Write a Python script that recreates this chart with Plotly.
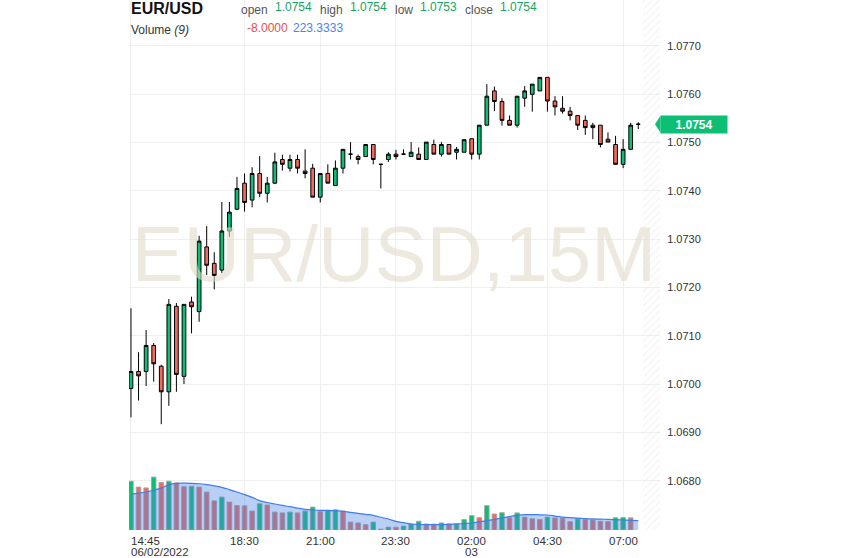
import pandas as pd
import plotly.graph_objects as go

# EUR/USD 15 minute candles, 2 June 2022 14:45 -> 3 June 07:30
times = pd.date_range("2022-06-02 14:45", periods=68, freq="15min")

opens = [1.06991, 1.07026, 1.07026, 1.07080, 1.07037, 1.06984, 1.07161, 1.07016, 1.07170, 1.07150,
         1.07284, 1.07250, 1.07236, 1.07317, 1.07362, 1.07416, 1.07381, 1.07436, 1.07395, 1.07416,
         1.07465, 1.07447, 1.07465, 1.07441, 1.07447, 1.07387, 1.07436, 1.07411, 1.07447, 1.07476,
         1.07471, 1.07471, 1.07496, 1.07455, 1.07465, 1.07476, 1.07476, 1.07471, 1.07476, 1.07465,
         1.07496, 1.07476, 1.07496, 1.07480, 1.07480, 1.07508, 1.07476, 1.07536, 1.07607, 1.07585,
         1.07546, 1.07536, 1.07592, 1.07600, 1.07607, 1.07635, 1.07586, 1.07571, 1.07565, 1.07556,
         1.07546, 1.07536, 1.07536, 1.07507, 1.07496, 1.07455, 1.07486, 1.07538]
highs = [1.07157, 1.07066, 1.07112, 1.07085, 1.07040, 1.07176, 1.07168, 1.07165, 1.07181, 1.07307,
         1.07327, 1.07273, 1.07377, 1.07377, 1.07429, 1.07436, 1.07449, 1.07472, 1.07429, 1.07479,
         1.07475, 1.07475, 1.07475, 1.07486, 1.07456, 1.07436, 1.07455, 1.07463, 1.07486, 1.07501,
         1.07475, 1.07496, 1.07496, 1.07455, 1.07480, 1.07485, 1.07486, 1.07501, 1.07490, 1.07501,
         1.07506, 1.07501, 1.07496, 1.07491, 1.07506, 1.07508, 1.07536, 1.07621, 1.07616, 1.07592,
         1.07556, 1.07596, 1.07617, 1.07621, 1.07635, 1.07635, 1.07596, 1.07596, 1.07574, 1.07556,
         1.07556, 1.07541, 1.07536, 1.07521, 1.07514, 1.07507, 1.07541, 1.07542]
lows = [1.06931, 1.06966, 1.06996, 1.07005, 1.06917, 1.06955, 1.06984, 1.07000, 1.07105, 1.07129,
        1.07226, 1.07196, 1.07230, 1.07305, 1.07360, 1.07357, 1.07366, 1.07387, 1.07376, 1.07414,
        1.07442, 1.07440, 1.07436, 1.07426, 1.07387, 1.07376, 1.07416, 1.07411, 1.07436, 1.07465,
        1.07455, 1.07471, 1.07455, 1.07405, 1.07460, 1.07465, 1.07476, 1.07471, 1.07465, 1.07465,
        1.07476, 1.07471, 1.07476, 1.07465, 1.07480, 1.07465, 1.07465, 1.07536, 1.07565, 1.07535,
        1.07536, 1.07531, 1.07574, 1.07564, 1.07607, 1.07564, 1.07556, 1.07560, 1.07546, 1.07526,
        1.07516, 1.07507, 1.07490, 1.07501, 1.07455, 1.07447, 1.07486, 1.07528]
closes = [1.07026, 1.07017, 1.07080, 1.07042, 1.06984, 1.07165, 1.07020, 1.07165, 1.07160, 1.07296,
          1.07246, 1.07225, 1.07317, 1.07356, 1.07405, 1.07376, 1.07436, 1.07395, 1.07416, 1.07460,
          1.07455, 1.07465, 1.07447, 1.07436, 1.07387, 1.07436, 1.07416, 1.07447, 1.07486, 1.07476,
          1.07465, 1.07496, 1.07465, 1.07455, 1.07476, 1.07471, 1.07476, 1.07480, 1.07465, 1.07501,
          1.07476, 1.07496, 1.07476, 1.07486, 1.07506, 1.07476, 1.07536, 1.07596, 1.07585, 1.07546,
          1.07536, 1.07596, 1.07607, 1.07621, 1.07635, 1.07586, 1.07574, 1.07565, 1.07556, 1.07536,
          1.07531, 1.07531, 1.07496, 1.07501, 1.07455, 1.07486, 1.07536, 1.07538]

volumes = [1170, 1030, 1010, 1270, 1140, 1170, 1130, 1040, 1050, 1030,
           910, 700, 790, 670, 585, 580, 455, 630, 600, 430,
           410, 430, 410, 455, 550, 440, 480, 485, 455, 190,
           170, 130, 190, 20, 70, 65, 95, 145, 210, 145,
           140, 170, 145, 150, 250, 345, 295, 585, 385, 415,
           295, 410, 310, 270, 250, 310, 290, 285, 200, 265,
           250, 240, 210, 205, 295, 300, 292, None]
vol_ma = [864, 885, 912, 955, 1008, 1088, 1120, 1125, 1120, 1110,
          1088, 1060, 1024, 970, 912, 850, 784, 704, 660, 624,
          590, 560, 525, 496, 480, 472, 468, 464, 448, 425,
          400, 375, 352, 305, 264, 208, 175, 144, 132, 128,
          128, 128, 135, 144, 155, 168, 195, 224, 255, 288,
          320, 352, 368, 370, 365, 360, 335, 310, 295, 285,
          272, 265, 260, 256, 250, 240, 232, 223.3333]

tick_times = ["2022-06-02 14:45", "2022-06-02 18:30", "2022-06-02 21:00", "2022-06-02 23:30",
              "2022-06-03 02:00", "2022-06-03 04:30", "2022-06-03 07:00"]
tick_labels = ["14:45", "18:30", "21:00", "23:30", "02:00", "04:30", "07:00"]
tick_sublabels = ["06/02/2022", "", "", "", "03", "", ""]
price_ticks = [1.0680, 1.0690, 1.0700, 1.0710, 1.0720, 1.0730, 1.0740, 1.0750, 1.0760, 1.0770]

GREEN = "#0dbf74"
RED = "#f26a5b"
TEXT_GREEN = "#17a363"
FONT = "Liberation Sans, Arial, sans-serif"
W, H = 843, 558


def px(x):
    return x / W


def py(y):
    return 1 - y / H


step = pd.Timedelta(minutes=15)
x_left = times[0] - step * 0.26
x_right = times[-1] + step * 2.87
y_low, y_high = 1.066979, 1.077952

vol_colors = [GREEN]
for prev, cur in zip(volumes[:-1], volumes[1:]):
    if cur is None or prev is None:
        vol_colors.append(RED)
    else:
        vol_colors.append(GREEN if cur >= prev else RED)

fig = go.Figure()

# watermark behind the candles
fig.add_trace(go.Scatter(
    x=[x_left + (x_right - x_left) * ((394 - 129) / 531)],
    y=[y_high - (y_high - y_low) * (261 / 530)],
    mode="text", text=["EUR/USD,15M"],
    textfont=dict(family=FONT, size=78, color="rgba(225,219,200,0.6)"),
    hoverinfo="skip", cliponaxis=False))

# hatched "future" zone, transparent between the stripes
h0 = times[-1] + step * 0.62
fig.add_trace(go.Scatter(
    x=[h0, x_right, x_right, h0, h0], y=[0, 0, 1, 1, 0], yaxis="y3",
    mode="lines", line=dict(width=0), fill="toself", fillcolor="rgba(0,0,0,0)",
    fillpattern=dict(shape="/", fgcolor="#e2e2e2", bgcolor="rgba(0,0,0,0)", size=5, solidity=0.2),
    hoverinfo="skip"))

fig.add_trace(go.Bar(
    x=times, y=volumes, yaxis="y2", width=step.total_seconds() * 1000 * 0.6,
    marker=dict(color=vol_colors, line=dict(color="rgba(165,165,165,0.9)", width=1))))

fig.add_trace(go.Scatter(
    x=times, y=vol_ma, yaxis="y2", mode="lines",
    line=dict(color="#3d7ee8", width=1.2, shape="spline"),
    fill="tozeroy", fillcolor="rgba(70,130,230,0.38)"))

fig.add_trace(go.Candlestick(
    x=times, open=opens, high=highs, low=lows, close=closes, whiskerwidth=0,
    increasing=dict(fillcolor=GREEN, line=dict(color="black", width=1)),
    decreasing=dict(fillcolor=RED, line=dict(color="black", width=1))))

annotations = [
    dict(x=px(129), y=py(9), text="<b>EUR/USD</b>", xanchor="left",
         font=dict(size=16, color="#111")),
    dict(x=px(239), y=py(10), text="open", xanchor="left", font=dict(size=12, color="#555")),
    dict(x=px(273), y=py(6.5), text="1.0754", xanchor="left", font=dict(size=12, color=TEXT_GREEN)),
    dict(x=px(318), y=py(10), text="high", xanchor="left", font=dict(size=12, color="#555")),
    dict(x=px(348), y=py(6.5), text="1.0754", xanchor="left", font=dict(size=12, color=TEXT_GREEN)),
    dict(x=px(393), y=py(10), text="low", xanchor="left", font=dict(size=12, color="#555")),
    dict(x=px(418), y=py(6.5), text="1.0753", xanchor="left", font=dict(size=12, color=TEXT_GREEN)),
    dict(x=px(463), y=py(10), text="close", xanchor="left", font=dict(size=12, color="#555")),
    dict(x=px(498), y=py(6.5), text="1.0754", xanchor="left", font=dict(size=12, color=TEXT_GREEN)),
    dict(x=px(129), y=py(30), text="Volume <i>(9)</i>", xanchor="left",
         font=dict(size=12, color="#333")),
    dict(x=px(245), y=py(28.5), text="-8.0000", xanchor="left", font=dict(size=12, color="#e0544a")),
    dict(x=px(291), y=py(28.5), text="223.3333", xanchor="left", font=dict(size=12, color="#4a86e8")),
]
for ann in annotations:
    ann.update(xref="paper", yref="paper", yanchor="middle", showarrow=False)

for i, (t, lab, sub) in enumerate(zip(tick_times, tick_labels, tick_sublabels)):
    anchor = "left" if i == 0 else "center"
    shift = -2 if i == 0 else 0
    annotations.append(dict(
        x=t, xref="x", y=py(540.5), yref="paper", text=lab, showarrow=False,
        xanchor=anchor, yanchor="middle", xshift=shift,
        font=dict(size=11.5, color="#333")))
    if sub:
        annotations.append(dict(
            x=t, xref="x", y=py(551.5), yref="paper", text=sub, showarrow=False,
            xanchor=anchor, yanchor="middle", xshift=shift,
            font=dict(size=11.5, color="#333")))

last_close = closes[-1]
annotations.append(dict(
    x=px(660), xref="paper", y=last_close, yref="y", text="<b>1.0754</b>",
    showarrow=False, xanchor="left", yanchor="middle", width=64, height=15,
    bgcolor=GREEN, font=dict(size=12, color="white")))

dy = 8.5 / 48300
fig.add_shape(type="path", xref="paper", yref="y",
              path=f"M {px(660.5)},{last_close + dy} L {px(655)},{last_close} "
                   f"L {px(660.5)},{last_close - dy} Z",
              fillcolor=GREEN, line=dict(width=0))

fig.update_layout(
    width=W, height=H, margin=dict(l=0, r=0, t=0, b=0),
    paper_bgcolor="white", plot_bgcolor="white",
    showlegend=False, font=dict(family=FONT), annotations=annotations,
    xaxis=dict(domain=[px(129), px(660)], range=[x_left, x_right], type="date",
               rangeslider=dict(visible=False), tickvals=tick_times, showticklabels=False,
               showgrid=True, gridcolor="#efefef", zeroline=False, showline=False, ticks=""),
    yaxis=dict(domain=[py(530), 1], range=[y_low, y_high], side="right",
               tickvals=price_ticks, tickformat=".4f", showgrid=True, gridcolor="#efefef",
               zeroline=False, ticks="outside", ticklen=4, tickcolor="rgba(0,0,0,0)",
               tickfont=dict(size=11, color="#333")),
    yaxis2=dict(domain=[py(530), 1], range=[0, 12720], overlaying="y", side="right",
                showticklabels=False, showgrid=False, zeroline=False),
    yaxis3=dict(domain=[py(530), 1], range=[0, 1], overlaying="y", side="right",
                showticklabels=False, showgrid=False, zeroline=False),
)

# drop the browser's default page margin so the figure sits at the window's corner
fig.write_html("out.html", config={"displayModeBar": False},
               post_script="document.body.style.margin = '0';")
